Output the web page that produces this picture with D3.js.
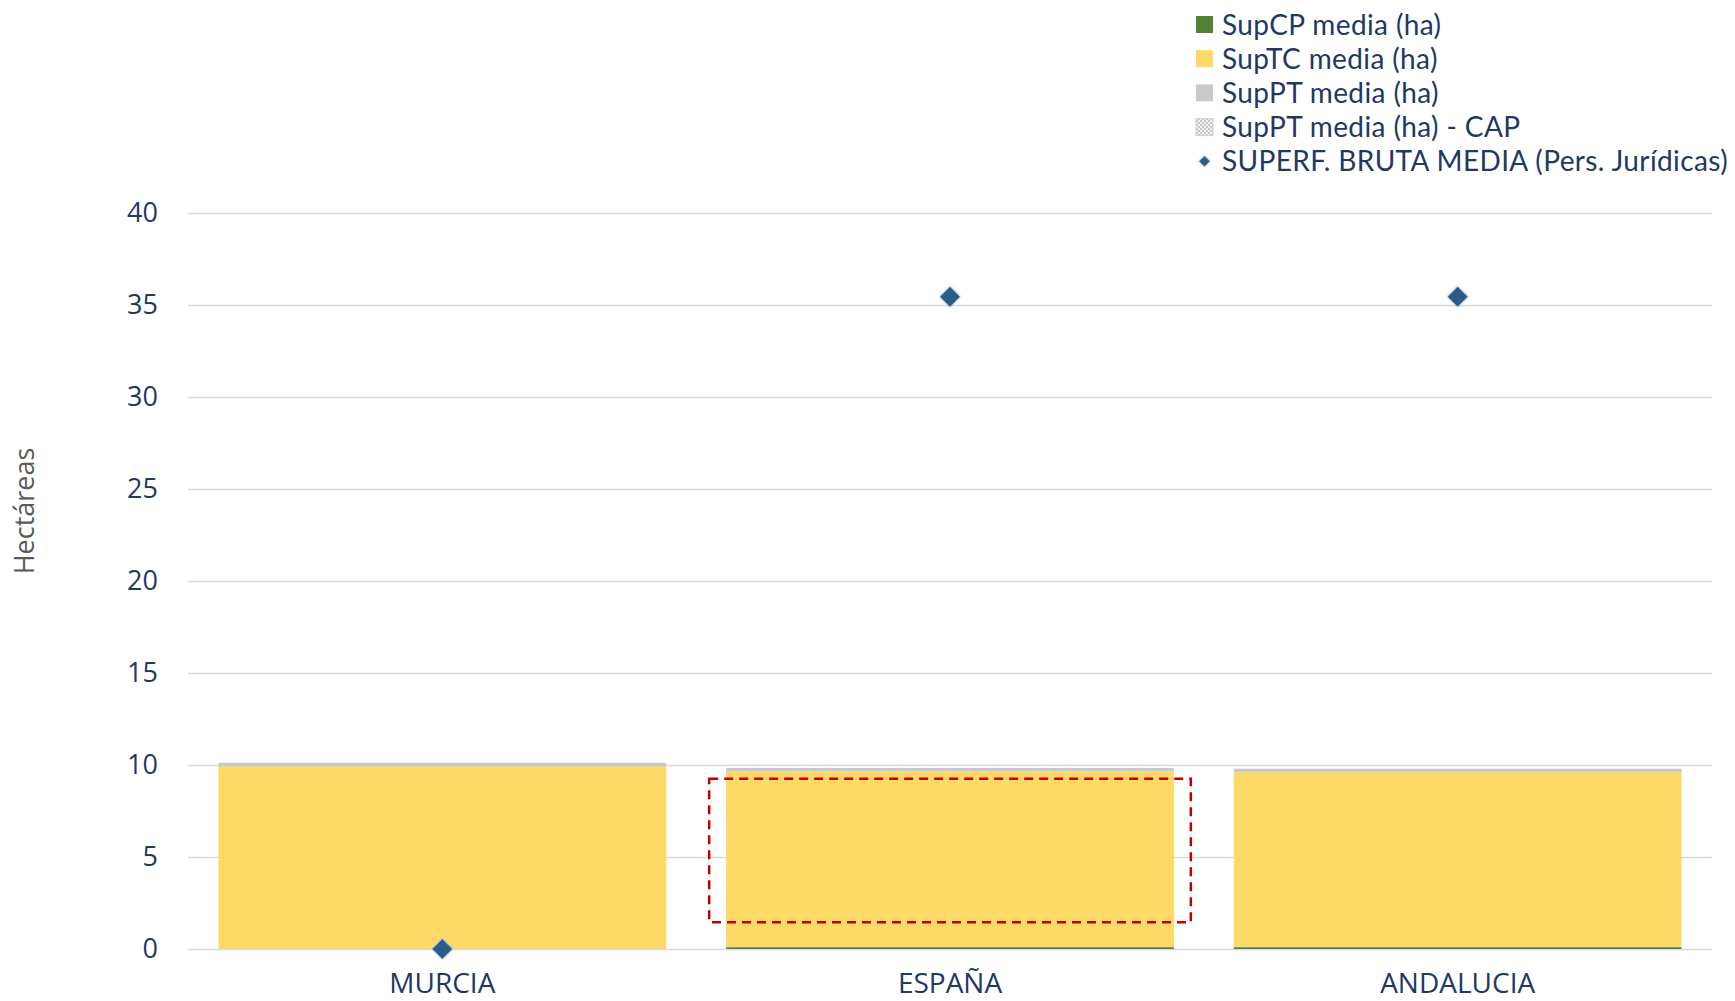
<!DOCTYPE html>
<html>
<head>
<meta charset="utf-8">
<script src="https://cdn.jsdelivr.net/npm/d3@7"></script>
<style>
  html, body { margin: 0; padding: 0; background: #ffffff; }
  svg { display: block; font-family: "Open Sans", "Noto Sans", sans-serif; }
</style>
</head>
<body>
<svg id="chart" width="1735" height="1001"></svg>
<script>
// ---- data ----
const categories = ["MURCIA", "ESPAÑA", "ANDALUCIA"];
const supCP = [0, 0.1, 0.1];          // SupCP media (ha)
const supTC = [9.9, 9.54, 9.5];       // SupTC media (ha)
const supPT = [0.22, 0.2, 0.2];       // SupPT media (ha)
const supPTCap = [0, 0, 0];           // SupPT media (ha) - CAP
const superfBruta = [0, 35.45, 35.45];// SUPERF. BRUTA MEDIA (Pers. Jurídicas)
const yTicks = [0, 5, 10, 15, 20, 25, 30, 35, 40];
const seriesNames = ["SupCP media (ha)", "SupTC media (ha)", "SupPT media (ha)", "SupPT media (ha) - CAP", "SUPERF. BRUTA MEDIA (Pers. Jurídicas)"];
// highlighted annotation box (data units)
const annotCategory = "ESPAÑA";
const annotRange = [1.45, 9.25];

// ---- layout ----
const svg = d3.select("#chart");
const margin = { left: 188, right: 23, top: 213, bottom: 52 };
const W = 1735, H = 1001;

const x = d3.scaleBand().domain(categories).range([margin.left, W - margin.right])
  .paddingInner(0.118).paddingOuter(0.06);
const y = d3.scaleLinear().domain([0, 40]).range([H - margin.bottom, margin.top]);

const colors = { cp: "#548235", tc: "#FED966", pt: "#C9C9C9", cap: "#E2E2E2", dot: "#2A5B85" };

// pattern for CAP
const defs = svg.append("defs");
const pat = defs.append("pattern").attr("id", "capPat").attr("width", 4).attr("height", 4)
  .attr("patternUnits", "userSpaceOnUse");
pat.append("rect").attr("width", 4).attr("height", 4).attr("fill", "#efefef");
pat.append("rect").attr("width", 2).attr("height", 2).attr("fill", "#c8c8c8");
pat.append("rect").attr("x", 2).attr("y", 2).attr("width", 2).attr("height", 2).attr("fill", "#c8c8c8");
const glow = defs.append("filter").attr("id", "glow").attr("x", "-50%").attr("y", "-50%").attr("width", "200%").attr("height", "200%");
glow.append("feGaussianBlur").attr("in", "SourceAlpha").attr("stdDeviation", 1.6).attr("result", "b");
glow.append("feFlood").attr("flood-color", "#BDD7EE").attr("result", "c");
glow.append("feComposite").attr("in", "c").attr("in2", "b").attr("operator", "in").attr("result", "g");
const fm = glow.append("feMerge");
fm.append("feMergeNode").attr("in", "g");
fm.append("feMergeNode").attr("in", "SourceGraphic");

// gridlines
const yAxis = d3.axisLeft(y).tickValues(yTicks).tickSize(-(W - margin.right - margin.left)).tickPadding(30);
const gy = svg.append("g").attr("transform", `translate(${margin.left},0)`).call(yAxis);
gy.select(".domain").remove();
gy.selectAll(".tick line").attr("stroke", "#D9D9D9").attr("stroke-width", 1.3);
gy.selectAll(".tick text").attr("fill", "#1F3864").attr("font-size", 27).attr("font-family", "Open Sans");

// stacked bars
const stackData = categories.map((c, i) => ({ cat: c, cp: supCP[i], tc: supTC[i], pt: supPT[i], cap: supPTCap[i] }));
const keys = ["cp", "tc", "pt", "cap"];
const stacked = d3.stack().keys(keys)(stackData);
svg.append("g").selectAll("g").data(stacked).join("g")
  .attr("fill", d => d.key === "cap" ? "url(#capPat)" : colors[d.key])
  .selectAll("rect").data(d => d).join("rect")
  .attr("x", d => x(d.data.cat))
  .attr("width", x.bandwidth())
  .attr("y", d => y(d[1]))
  .attr("height", d => Math.max(0, y(d[0]) - y(d[1])));

// x axis labels
const xAxis = d3.axisBottom(x).tickSize(0).tickPadding(24);
const gx = svg.append("g").attr("transform", `translate(0,${y(0)})`).call(xAxis);
gx.select(".domain").remove();
gx.selectAll(".tick text").attr("fill", "#1F3864").attr("font-size", 28).attr("font-family", "Open Sans");

// annotation dashed box
const bx = x(annotCategory), bw = x.step();
svg.append("rect")
  .attr("x", bx - (x.step() - x.bandwidth()) / 2 + 13)
  .attr("y", y(annotRange[1]))
  .attr("width", bw - 26)
  .attr("height", y(annotRange[0]) - y(annotRange[1]))
  .attr("fill", "none").attr("stroke", "#C00000").attr("stroke-width", 2.5)
  .attr("stroke-dasharray", "9,6");

// diamonds
const diamond = d3.symbol().type(d3.symbolSquare).size(210);
svg.append("g").selectAll("path").data(categories.map((c, i) => ({ c, v: superfBruta[i] })))
  .join("path")
  .attr("d", diamond)
  .attr("transform", d => `translate(${x(d.c) + x.bandwidth() / 2},${y(d.v)}) rotate(45)`)
  .attr("fill", colors.dot)
  .attr("filter", "url(#glow)");

// y axis title
svg.append("text")
  .attr("transform", `translate(34,511) rotate(-90)`)
  .attr("text-anchor", "middle")
  .attr("fill", "#595959").attr("font-size", 27)
  .text("Hectáreas");

// legend
const lg = svg.append("g").attr("transform", "translate(1196,0)");
const legFills = [colors.cp, colors.tc, colors.pt, "url(#capPat)", null];
const legTexts = [];
seriesNames.forEach((name, i) => {
  const cy = 24.5 + i * 34.2;
  if (legFills[i]) {
    lg.append("rect").attr("x", 0).attr("y", cy - 8.5).attr("width", 17).attr("height", 17)
      .attr("fill", legFills[i]).attr("stroke", i === 3 ? "#d0d0d0" : "none");
  } else {
    lg.append("path").attr("d", d3.symbol().type(d3.symbolSquare).size(60))
      .attr("transform", `translate(8.5,${cy}) rotate(45)`).attr("fill", colors.dot).attr("filter", "url(#glow)");
  }
  legTexts.push(lg.append("text").attr("x", 26).attr("y", cy).attr("dy", "0.36em")
    .attr("font-family", "Lato")
    .attr("fill", "#1F3864").attr("font-size", 28).text(name));
});
// widen legend text to the reference's longest-line width
const longest = legTexts[legTexts.length - 1];
const len = longest.node().getComputedTextLength();
const ls = Math.max(0, (506 - len) / seriesNames[seriesNames.length - 1].length);
legTexts.forEach(t => t.attr("letter-spacing", ls));
</script>
</body>
</html>
